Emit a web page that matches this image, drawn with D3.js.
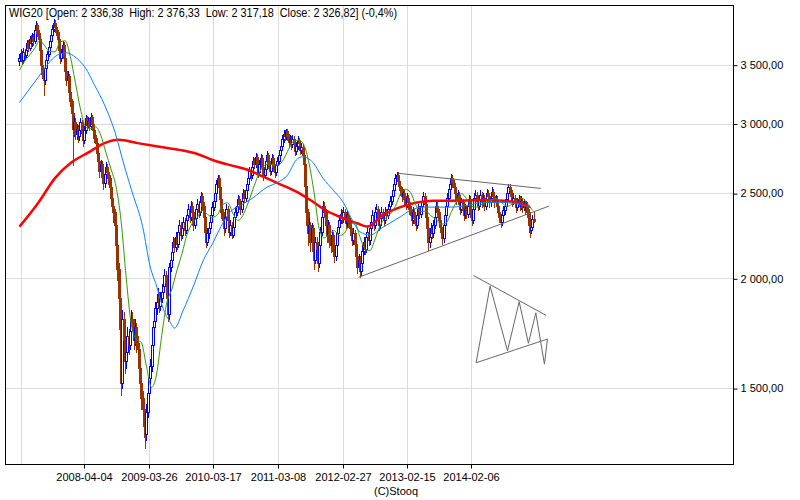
<!DOCTYPE html>
<html><head><meta charset="utf-8">
<script src="https://d3js.org/d3.v7.min.js"></script>
<style>
html,body{margin:0;padding:0;background:#fff;}
svg{display:block;background:#fff;}
text{font-family:"Liberation Sans",Arial,sans-serif;fill:#000;}
</style></head><body>
<svg id="c" width="800" height="500"></svg>
<script>
const title = "WIG20 [Open: 2 336,38  High: 2 376,33  Low: 2 317,18  Close: 2 326,82] (-0,4%)";
const source = "(C)Stooq";
const firstWeek = "2007-04-13";

const opens = [
3530,3560,3610,3540,3620,3590,3640,3700,3660,3740,
3700,3760,3720,3830,3880,3800,3740,3640,3500,3420,
3360,3470,3540,3600,3670,3720,3780,3840,3900,3860,
3810,3740,3640,3560,3610,3690,3560,3440,3360,3400,
3260,3180,3080,2960,3010,2920,2960,2900,2950,3010,
2930,2870,2950,3040,2990,3020,2980,3050,3000,2950,
2890,2850,2780,2720,2650,2700,2610,2570,2630,2680,
2640,2600,2540,2470,2420,2380,2300,2180,2050,1900,
1750,1520,1800,1700,1610,1650,1720,1680,1740,1800,
1780,1700,1760,1690,1660,1580,1520,1460,1420,1360,
1330,1410,1480,1540,1590,1680,1760,1790,1850,1880,
1910,1860,1900,1930,1960,2020,1980,1900,1820,2060,
2100,2140,2200,2170,2230,2190,2260,2300,2240,2280,
2320,2270,2330,2360,2400,2350,2420,2380,2300,2340,
2400,2430,2380,2440,2480,2420,2350,2260,2200,2250,
2280,2320,2360,2410,2450,2500,2560,2600,2540,2460,
2380,2330,2280,2350,2400,2330,2260,2300,2240,2290,
2350,2380,2420,2460,2430,2400,2450,2500,2470,2520,
2560,2600,2650,2620,2680,2720,2700,2750,2690,2640,
2700,2740,2680,2620,2660,2720,2760,2700,2650,2700,
2740,2680,2640,2690,2720,2760,2800,2830,2880,2920,
2900,2940,2900,2860,2880,2840,2880,2850,2790,2830,
2870,2850,2800,2820,2760,2700,2550,2380,2250,2300,
2200,2280,2150,2100,2200,2160,2080,2180,2260,2350,
2420,2380,2300,2240,2300,2200,2180,2240,2150,2120,
2180,2250,2290,2330,2370,2340,2380,2350,2310,2360,
2320,2280,2240,2210,2250,2190,2120,2060,2100,2040,
2080,2150,2200,2160,2230,2260,2210,2280,2320,2360,
2300,2380,2400,2350,2300,2340,2380,2360,2330,2380,
2360,2400,2420,2450,2480,2520,2560,2600,2620,2580,
2550,2520,2480,2500,2460,2430,2470,2440,2400,2360,
2330,2380,2340,2300,2360,2400,2370,2420,2450,2480,
2430,2350,2280,2200,2230,2280,2250,2300,2350,2420,
2380,2330,2290,2260,2220,2300,2360,2420,2470,2530,
2560,2600,2570,2540,2500,2460,2490,2430,2400,2440,
2390,2360,2400,2370,2420,2460,2380,2330,2400,2470,
2490,2450,2420,2460,2490,2440,2470,2420,2460,2500,
2480,2440,2470,2510,2480,2440,2460,2420,2380,2350,
2320,2360,2390,2420,2460,2500,2540,2520,2480,2450,
2470,2440,2410,2440,2460,2420,2450,2410,2430,2400,
2420,2380,2300,2270,2290,2336.38];

const highs = [
3600,3650,3630,3660,3650,3680,3730,3730,3770,3780,
3800,3790,3860,3920,3900,3830,3760,3660,3530,3450,
3500,3580,3630,3700,3760,3810,3880,3940,3930,3890,
3830,3760,3670,3650,3720,3710,3580,3470,3440,3420,
3290,3200,3110,3060,3040,3000,2990,2990,3040,3030,
2960,2980,3070,3060,3050,3040,3080,3070,3020,2970,
2910,2870,2800,2740,2730,2720,2640,2660,2710,2700,
2670,2620,2560,2500,2460,2400,2320,2210,2080,1940,
1790,1840,1830,1730,1700,1760,1750,1780,1840,1830,
1800,1800,1780,1720,1680,1600,1550,1490,1440,1390,
1440,1510,1570,1620,1710,1790,1830,1880,1920,1950,
1930,1930,1970,2000,2050,2040,2000,1920,2080,2130,
2170,2230,2220,2260,2250,2290,2330,2320,2310,2350,
2340,2360,2390,2430,2420,2450,2440,2400,2370,2430,
2460,2450,2470,2510,2500,2440,2370,2280,2280,2310,
2350,2390,2440,2480,2530,2590,2620,2620,2560,2480,
2400,2350,2380,2430,2420,2350,2330,2320,2320,2380,
2410,2450,2490,2480,2450,2480,2530,2520,2550,2590,
2630,2680,2670,2710,2750,2740,2780,2770,2710,2730,
2770,2760,2700,2690,2750,2790,2780,2720,2730,2770,
2760,2700,2720,2750,2790,2830,2860,2910,2950,2950,
2960,2960,2920,2910,2900,2910,2900,2870,2860,2900,
2890,2870,2850,2840,2780,2720,2570,2400,2340,2320,
2310,2300,2180,2230,2230,2180,2210,2290,2380,2450,
2440,2400,2320,2330,2320,2230,2270,2260,2170,2210,
2280,2320,2360,2400,2390,2410,2400,2370,2390,2380,
2340,2300,2260,2280,2270,2210,2140,2130,2120,2110,
2180,2230,2220,2260,2290,2280,2310,2350,2390,2380,
2410,2430,2420,2370,2370,2410,2400,2380,2410,2400,
2430,2450,2480,2510,2550,2590,2630,2640,2640,2600,
2570,2540,2530,2520,2480,2500,2490,2460,2420,2380,
2410,2400,2360,2390,2430,2420,2450,2480,2510,2500,
2450,2370,2300,2260,2310,2300,2330,2380,2450,2440,
2400,2350,2310,2280,2330,2390,2450,2500,2560,2590,
2630,2620,2590,2560,2520,2520,2510,2450,2470,2460,
2410,2430,2420,2450,2490,2480,2400,2430,2500,2520,
2510,2470,2490,2520,2510,2500,2490,2490,2530,2520,
2500,2500,2540,2530,2500,2490,2480,2440,2400,2370,
2390,2420,2450,2490,2530,2560,2560,2540,2500,2500,
2490,2460,2470,2490,2480,2480,2470,2460,2450,2450,
2440,2400,2320,2320,2360,2376.33];

const lows = [
3500,3530,3510,3520,3550,3570,3620,3630,3640,3670,
3680,3690,3700,3800,3770,3710,3610,3470,3380,3230,
3330,3450,3510,3580,3640,3700,3760,3820,3830,3780,
3700,3610,3520,3530,3590,3530,3410,3320,3330,3230,
3140,3040,2690,2900,2880,2880,2860,2870,2920,2900,
2830,2850,2930,2960,2970,2950,2960,2970,2920,2860,
2810,2750,2690,2610,2620,2580,2530,2540,2600,2610,
2560,2500,2430,2380,2320,2240,2120,1990,1830,1680,
1475,1500,1660,1560,1580,1620,1640,1660,1720,1740,
1660,1680,1650,1620,1540,1480,1420,1380,1320,1282,
1310,1390,1460,1520,1570,1660,1730,1770,1820,1850,
1830,1840,1880,1900,1940,1950,1870,1790,1800,2040,
2080,2120,2140,2150,2160,2170,2240,2210,2220,2260,
2240,2250,2310,2340,2320,2330,2350,2270,2280,2320,
2380,2350,2360,2420,2390,2320,2220,2170,2180,2220,
2260,2300,2340,2390,2430,2480,2540,2510,2430,2340,
2300,2240,2260,2330,2300,2230,2240,2220,2230,2270,
2330,2360,2400,2400,2370,2380,2430,2440,2450,2500,
2540,2580,2590,2600,2660,2670,2680,2660,2610,2620,
2680,2650,2590,2600,2640,2700,2670,2620,2630,2680,
2650,2610,2620,2670,2700,2740,2780,2810,2860,2870,
2880,2870,2830,2840,2810,2820,2820,2760,2770,2810,
2820,2770,2780,2730,2660,2500,2300,2180,2220,2150,
2170,2110,2050,2080,2120,2040,2060,2160,2240,2330,
2350,2270,2200,2220,2170,2140,2160,2120,2090,2100,
2160,2230,2270,2310,2310,2320,2320,2280,2290,2290,
2250,2210,2180,2190,2160,2090,2030,2040,2005,2020,
2060,2130,2130,2140,2210,2180,2190,2260,2300,2270,
2280,2360,2320,2270,2280,2320,2330,2300,2310,2330,
2340,2380,2400,2430,2460,2500,2540,2580,2550,2520,
2490,2450,2460,2430,2400,2410,2410,2370,2330,2300,
2310,2310,2270,2280,2340,2340,2350,2400,2430,2400,
2320,2240,2154,2170,2210,2220,2230,2280,2330,2350,
2300,2260,2230,2190,2200,2280,2340,2400,2450,2510,
2540,2540,2510,2470,2430,2440,2400,2370,2380,2360,
2330,2340,2340,2350,2400,2350,2300,2310,2380,2450,
2420,2390,2400,2440,2410,2420,2390,2400,2440,2450,
2410,2420,2450,2450,2410,2420,2390,2350,2320,2290,
2300,2340,2370,2400,2440,2480,2490,2450,2420,2430,
2410,2380,2390,2420,2390,2400,2380,2390,2370,2380,
2350,2260,2230,2250,2270,2317.18];

const closes = [
3560,3610,3540,3620,3590,3640,3700,3660,3740,3700,
3760,3720,3830,3880,3800,3740,3640,3500,3420,3360,
3470,3540,3600,3670,3720,3780,3840,3900,3860,3810,
3740,3640,3560,3610,3690,3560,3440,3360,3400,3260,
3180,3080,2960,3010,2920,2960,2900,2950,3010,2930,
2870,2950,3040,2990,3020,2980,3050,3000,2950,2890,
2850,2780,2720,2650,2700,2610,2570,2630,2680,2640,
2600,2540,2470,2420,2380,2300,2180,2050,1900,1750,
1520,1800,1700,1610,1650,1720,1680,1740,1800,1780,
1700,1760,1690,1660,1580,1520,1460,1420,1360,1330,
1410,1480,1540,1590,1680,1760,1790,1850,1880,1910,
1860,1900,1930,1960,2020,1980,1900,1820,2060,2100,
2140,2200,2170,2230,2190,2260,2300,2240,2280,2320,
2270,2330,2360,2400,2350,2420,2380,2300,2340,2400,
2430,2380,2440,2480,2420,2350,2260,2200,2250,2280,
2320,2360,2410,2450,2500,2560,2600,2540,2460,2380,
2330,2280,2350,2400,2330,2260,2300,2240,2290,2350,
2380,2420,2460,2430,2400,2450,2500,2470,2520,2560,
2600,2650,2620,2680,2720,2700,2750,2690,2640,2700,
2740,2680,2620,2660,2720,2760,2700,2650,2700,2740,
2680,2640,2690,2720,2760,2800,2830,2880,2920,2900,
2940,2900,2860,2880,2840,2880,2850,2790,2830,2870,
2850,2800,2820,2760,2700,2550,2380,2250,2300,2200,
2280,2150,2100,2200,2160,2080,2180,2260,2350,2420,
2380,2300,2240,2300,2200,2180,2240,2150,2120,2180,
2250,2290,2330,2370,2340,2380,2350,2310,2360,2320,
2280,2240,2210,2250,2190,2120,2060,2100,2040,2080,
2150,2200,2160,2230,2260,2210,2280,2320,2360,2300,
2380,2400,2350,2300,2340,2380,2360,2330,2380,2360,
2400,2420,2450,2480,2520,2560,2600,2620,2580,2550,
2520,2480,2500,2460,2430,2470,2440,2400,2360,2330,
2380,2340,2300,2360,2400,2370,2420,2450,2480,2430,
2350,2280,2200,2230,2280,2250,2300,2350,2420,2380,
2330,2290,2260,2220,2300,2360,2420,2470,2530,2560,
2600,2570,2540,2500,2460,2490,2430,2400,2440,2390,
2360,2400,2370,2420,2460,2380,2330,2400,2470,2490,
2450,2420,2460,2490,2440,2470,2420,2460,2500,2480,
2440,2470,2510,2480,2440,2460,2420,2380,2350,2320,
2360,2390,2420,2460,2500,2540,2520,2480,2450,2470,
2440,2410,2440,2460,2420,2450,2410,2430,2400,2420,
2380,2300,2270,2290,2336,2326.82];

// short moving average, one reading every 4 weeks
const maShortStep = 4;
const maShort = [
3450,3530,3590,3653,3730,3674,3621,3620,3714,3726,
3577,3342,3118,2976,2960,2973,2910,2783,2664,2545,
2326,2006,1775,1705,1690,1588,1503,1556,1721,1876,
1943,2042,2134,2244,2310,2346,2390,2365,2347,2363,
2426,2438,2372,2327,2359,2436,2528,2621,2681,2698,
2692,2690,2732,2805,2866,2872,2836,2704,2503,2279,
2223,2247,2266,2236,2252,2300,2312,2232,2160,2150,
2216,2296,2341,2366,2415,2493,2526,2504,2426,2381,
2385,2356,2335,2305,2312,2378,2444,2497,2465,2416,
2409,2428,2441,2458,2464,2437,2415,2428,2453,2465,
2433,2389];

// medium moving average (readings at given week numbers)
const maMidWeeks = [0,15,22,30,37,45,52,59,67,75,83,89,97,103,108,113,119,122,129,137,145,152,160,166,174,184,195,203,211,218,223,231,239,247,255,262,268,276,286,300,308,318,339,352,365,378,392,402];
const maMidValues = [3170,3390,3500,3590,3610,3560,3470,3320,3150,2940,2670,2500,2290,2060,1960,1850,1780,1755,1840,1960,2100,2190,2310,2380,2420,2470,2540,2570,2620,2727,2750,2710,2600,2520,2440,2330,2260,2240,2285,2350,2390,2410,2410,2420,2440,2440,2430,2410];

// long moving average
const maLongWeeks = [0,15,28,41,54,67,78,93,109,126,140,152,166,179,192,205,218,229,239,252,266,274,286,300,313,326,339,365,381,392,402];
const maLongValues = [2290,2440,2600,2710,2780,2850,2875,2850,2825,2800,2770,2727,2690,2660,2610,2560,2510,2455,2400,2350,2310,2290,2360,2410,2440,2450,2450,2455,2450,2440,2410];

// drawn trend lines (week number, price)
const upperTrendWeeks = [298.4, 410.6], upperTrendValues = [2633, 2531];
const lowerTrendWeeks = [266.9, 417.1], lowerTrendValues = [2005, 2417];
// hand-drawn pattern sketch
const sketchTopWeeks = [357.5, 414.7], sketchTopValues = [2015, 1815];
const sketchZigWeeks = [359.6, 370.6, 384.3, 393.5, 400.8, 406.6, 413.4, 415.8];
const sketchZigValues = [1603, 1960, 1654, 1881, 1687, 1827, 1597, 1706];
const sketchBaseWeeks = [359.6, 415.8], sketchBaseValues = [1603, 1706];

const xTickLabels = ["2008-04-04","2009-03-26","2010-03-17","2011-03-08","2012-02-27","2013-02-15","2014-02-06"];
const xGridOnly = ["2007-04-19"];
const yTicks = [1500, 2000, 2500, 3000, 3500];

// ---------- drawing ----------
const svg = d3.select("#c");
const L = 5.5, R = 733.5, T = 5.5, B = 464.5;
const parse = d3.timeParse("%Y-%m-%d");
const start = parse(firstWeek);
const weekDate = w => new Date(start.getTime() + w * 7 * 864e5);
const x = d3.scaleTime().domain([parse("2007-01-26"), parse("2018-01-21")]).range([L, R]);
const y = d3.scaleLog().domain([1228, 4087]).range([B, T]);
const loc = d3.formatLocale({decimal: ",", thousands: " ", grouping: [3], currency: ["", ""]});
const fmt = loc.format(",.2f");

const C_UP = "#0000ff", C_DOWN = "#993300";

// grid
const grid = svg.append("g").attr("stroke", "#dcdcdc").attr("stroke-width", 1);
xTickLabels.concat(xGridOnly).map(parse).forEach(d => {
  const px = Math.round(x(d)) + 0.5;
  grid.append("line").attr("x1", px).attr("x2", px).attr("y1", T).attr("y2", B);
});
yTicks.forEach(v => {
  const py = Math.round(y(v)) + 0.5;
  grid.append("line").attr("x1", L).attr("x2", R).attr("y1", py).attr("y2", py);
});

// candles
const cg = svg.append("g");
closes.forEach((c, i) => {
  const o = opens[i], h = highs[i], l = lows[i];
  const px = Math.round(x(weekDate(i)));
  const up = c >= o;
  const col = up ? C_UP : C_DOWN;
  cg.append("line").attr("x1", px + 0.5).attr("x2", px + 0.5)
    .attr("y1", Math.round(y(h))).attr("y2", Math.round(y(l)) + 1)
    .attr("stroke", col).attr("stroke-width", 1);
  const yt = Math.round(y(Math.max(o, c))), yb = Math.round(y(Math.min(o, c)));
  if (up) {
    cg.append("rect").attr("x", px - 0.5).attr("y", yt + 0.5)
      .attr("width", 2).attr("height", Math.max(0, yb - yt))
      .attr("fill", "#fff").attr("stroke", C_UP).attr("stroke-width", 1);
  } else {
    cg.append("rect").attr("x", px - 1).attr("y", yt)
      .attr("width", 3).attr("height", Math.max(1, yb - yt + 1))
      .attr("fill", C_DOWN);
  }
});

// moving averages
const line = d3.line().x(d => x(weekDate(d[0]))).y(d => y(d[1]));
svg.append("path")
  .attr("d", line.curve(d3.curveMonotoneX)(maLongWeeks.map((w, i) => [w, maLongValues[i]])))
  .attr("fill", "none").attr("stroke", "#ff0000").attr("stroke-width", 2.5);
svg.append("path")
  .attr("d", line.curve(d3.curveMonotoneX)(maMidWeeks.map((w, i) => [w, maMidValues[i]])))
  .attr("fill", "none").attr("stroke", "#0a80ff").attr("stroke-width", 1);
svg.append("path")
  .attr("d", line.curve(d3.curveMonotoneX)(maShort.map((v, i) => [i * maShortStep, v])))
  .attr("fill", "none").attr("stroke", "#339900").attr("stroke-width", 1);

// trend lines and sketch
const straight = d3.line().x(d => x(weekDate(d[0]))).y(d => y(d[1]));
[[upperTrendWeeks, upperTrendValues], [lowerTrendWeeks, lowerTrendValues],
 [sketchTopWeeks, sketchTopValues], [sketchZigWeeks, sketchZigValues],
 [sketchBaseWeeks, sketchBaseValues]].forEach(([ws, vs]) => {
  svg.append("path").attr("d", straight(ws.map((w, i) => [w, vs[i]])))
    .attr("fill", "none").attr("stroke", "#666666").attr("stroke-width", 1);
});

// frame
svg.append("rect").attr("x", L).attr("y", T).attr("width", R - L).attr("height", B - T)
  .attr("fill", "none").attr("stroke", "#000").attr("stroke-width", 1);

// axes
const yAxis = d3.axisRight(y).tickValues(yTicks).tickFormat(fmt).tickSize(4).tickSizeOuter(0);
const ga = svg.append("g").attr("transform", `translate(${R},0)`).call(yAxis);
ga.select(".domain").remove();
ga.selectAll("line").attr("stroke", "#000").attr("transform", "translate(0,0.5)");
ga.selectAll("text").attr("font-size", 11).attr("font-family", null).attr("x", 7).attr("dy", "0.35em");

const xAxis = d3.axisBottom(x).tickValues(xTickLabels.map(parse)).tickFormat(d3.timeFormat("%Y-%m-%d")).tickSize(4).tickSizeOuter(0);
const gx = svg.append("g").attr("transform", `translate(0,${B})`).call(xAxis);
gx.select(".domain").remove();
gx.selectAll(".tick").attr("transform", d => `translate(${Math.round(x(d)) + 0.5},0)`);
gx.selectAll("line").attr("stroke", "#000");
gx.selectAll("text").attr("font-size", 11).attr("font-family", null).attr("y", 16).attr("dy", null);

// title & source
svg.append("text").attr("x", 9).attr("y", 17).attr("font-size", 12)
  .attr("textLength", 388).attr("lengthAdjust", "spacingAndGlyphs")
  .style("white-space", "pre").text(title);
svg.append("text").attr("x", 396).attr("y", 495).attr("font-size", 11)
  .attr("text-anchor", "middle").text(source);
</script>
</body></html>
